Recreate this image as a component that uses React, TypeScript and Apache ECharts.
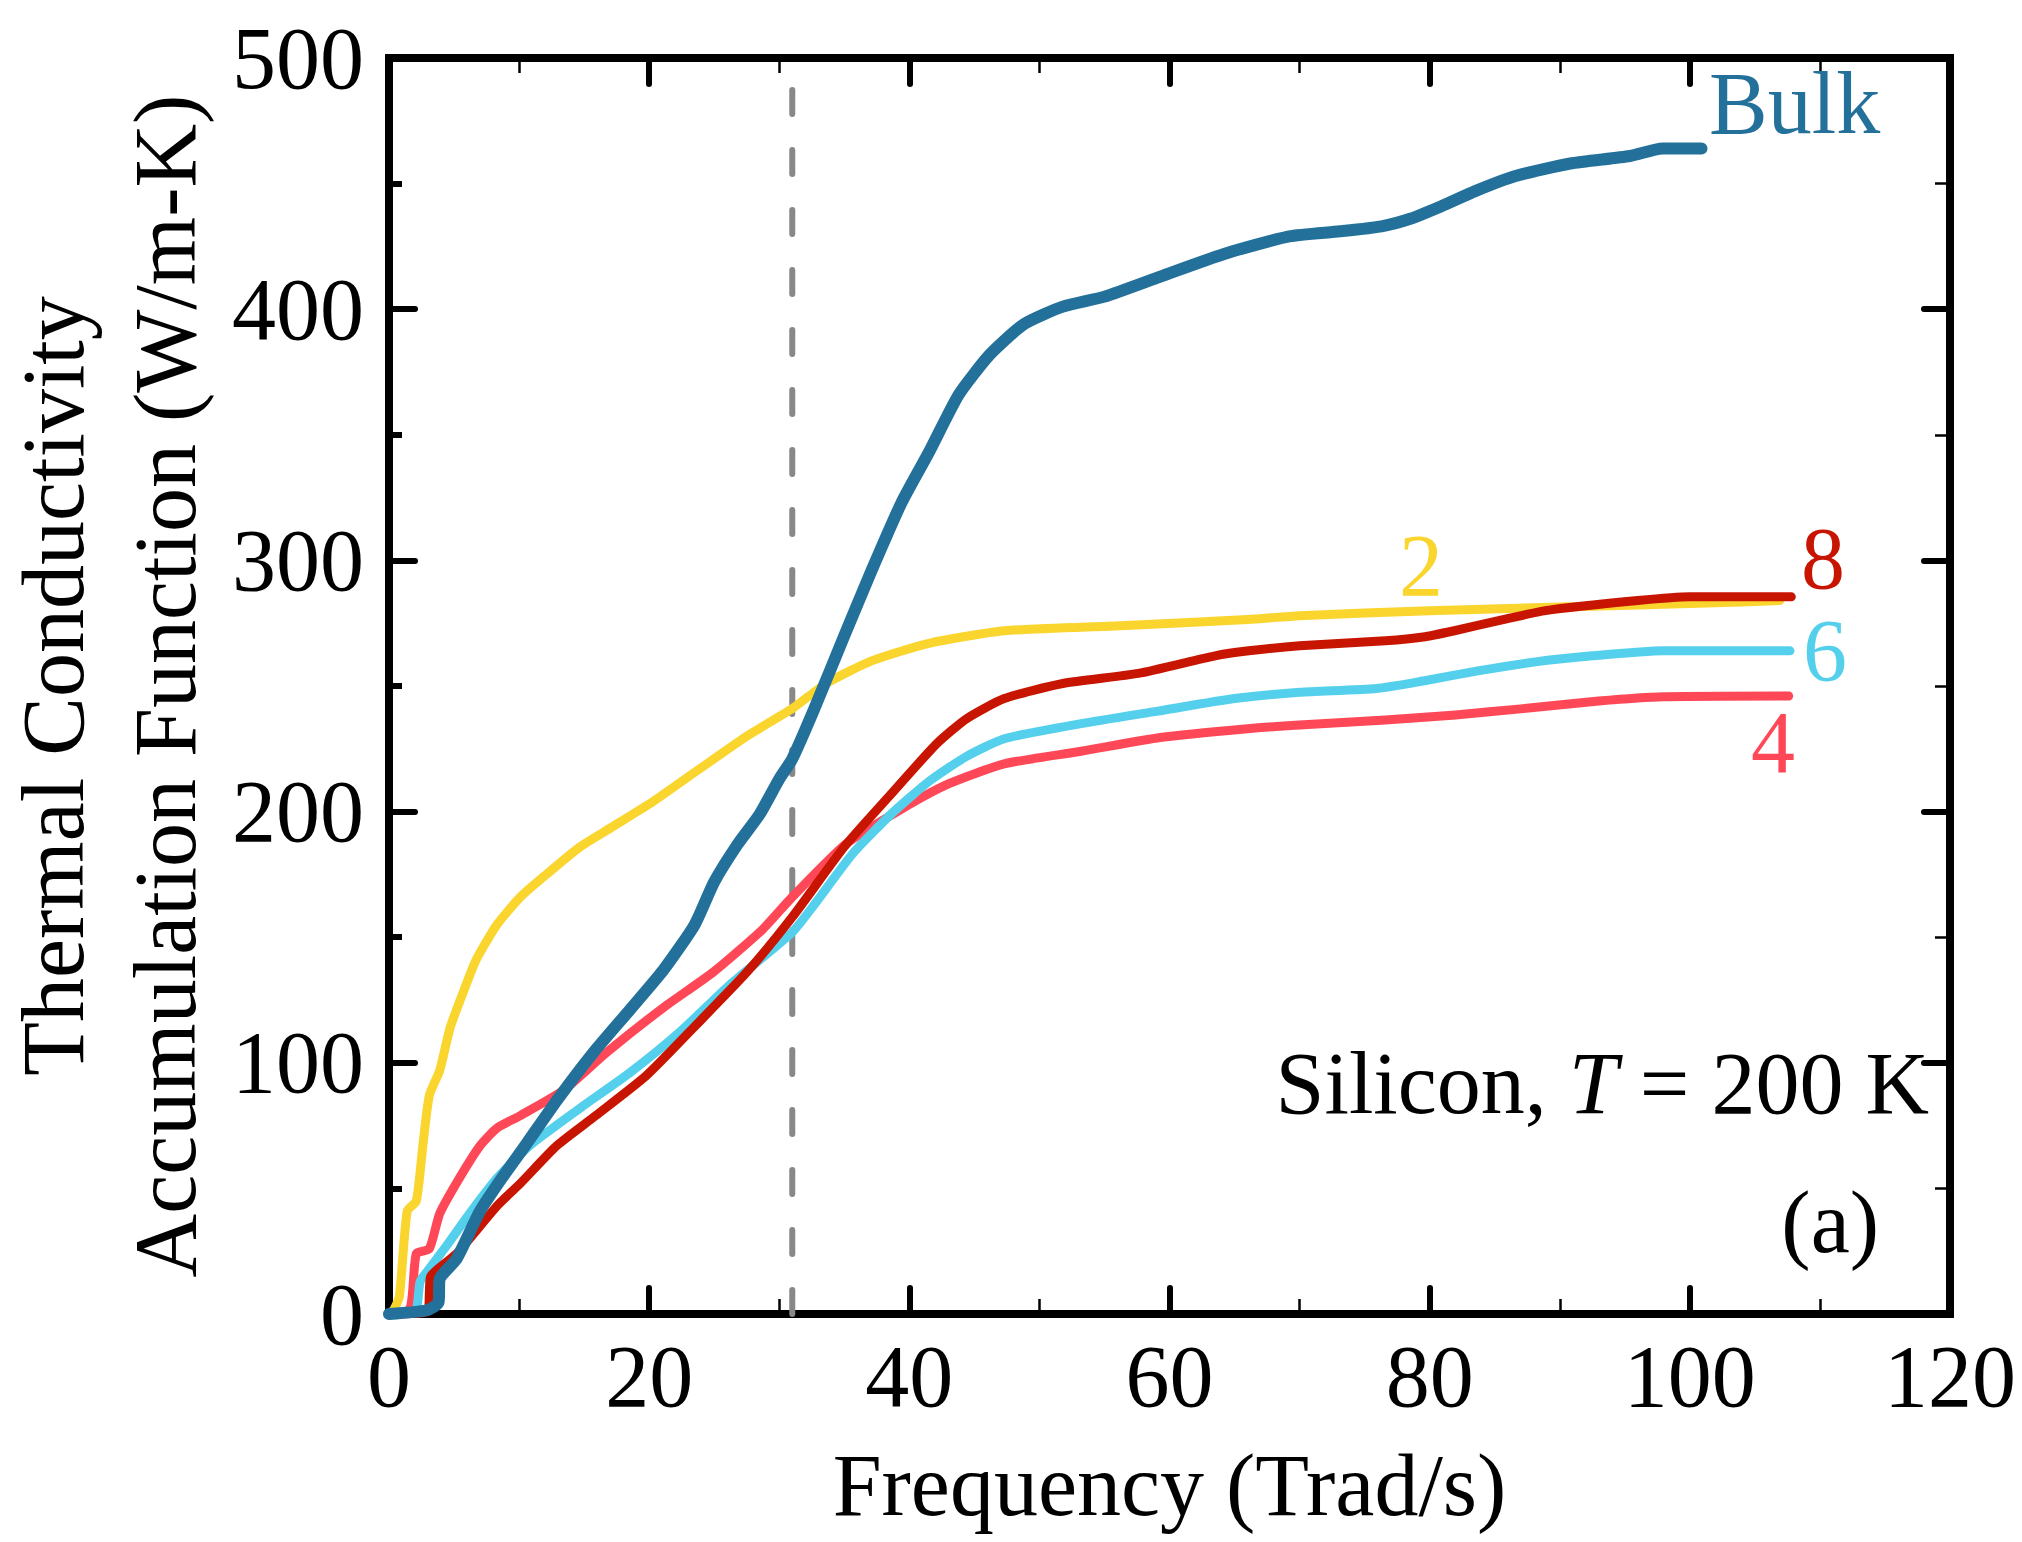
import React, { useEffect, useRef } from "react";
import * as echarts from "echarts";

const FONT = '"Liberation Serif", "Times New Roman", Times, serif';

// ---- data (frequency in Trad/s, accumulated conductivity in W/m-K) ----
const bulkX = [0, 2.9, 3.8, 3.9, 5.2, 7, 8.8, 10.6, 12.9, 15.7, 18.5, 21.1, 23.5, 25, 26.8, 28.5, 30, 31, 32.7, 35, 37.1, 39.4, 41.5, 43.8, 46.2, 48.8, 51.8, 55, 59.3, 64.2, 69.2, 73.1, 76.3, 78.5, 80.9, 83.5, 86.6, 90.8, 95.4, 97.9, 100.9];
const bulkY = [0, 1.5, 4.5, 14, 22, 41, 55, 68, 85, 104, 121, 137, 155, 172, 187, 199, 213, 221, 241, 270, 296, 323, 343, 366, 382, 394, 401, 405, 413, 422, 429, 431, 433, 436, 441, 447, 453, 458, 461, 464, 464];

const n2X = [0, 0.4, 0.8, 1.4, 2.1, 2.6, 3.1, 3.9, 4.7, 5.7, 6.7, 8.3, 10.1, 12.1, 14.7, 17.2, 20.3, 23.6, 27.5, 31, 33.6, 37.1, 41.5, 47.3, 56.2, 66, 70, 80, 90.8, 101.3, 106.9];
const n2Y = [0, 2, 7, 41, 45, 67, 87, 97, 114, 128, 141, 155, 166, 175, 186, 194, 204, 216, 230, 241, 251, 260, 267, 272, 274, 276.5, 278, 280, 281.5, 283, 284];

const n4X = [0, 1.6, 2.1, 3.1, 3.9, 5.4, 7, 8.3, 10.1, 13.4, 16.7, 21.1, 24.9, 28.7, 31, 35.1, 39.4, 43, 47.3, 53.2, 59.3, 66, 70, 76.6, 82, 87.2, 93, 98, 107.6];
const n4Y = [0, 2, 24, 26, 40, 54, 67, 74, 79, 89, 104, 122, 136, 153, 166, 187, 201, 211, 219, 224, 229.5, 233, 234.5, 236.5, 238.5, 241, 244, 245.7, 246];

const n6X = [0, 2, 2.4, 3.1, 4.4, 6.2, 8.3, 10.8, 14.7, 18.5, 22.3, 26.2, 31, 32.7, 35.6, 38.6, 41.5, 44.4, 47.3, 53.2, 59.1, 65, 70, 75.9, 79.5, 83.7, 88, 92.5, 98, 107.7];
const n6Y = [0, 1, 13, 18, 27, 40, 54, 67, 82, 96, 112, 131, 152, 163, 183, 199, 212, 222, 229, 235, 240, 245, 247.5, 249, 252, 256, 259.5, 262, 264, 264];

const n8X = [0, 3, 3.1, 3.2, 5.2, 8.3, 10.1, 12.9, 15.9, 19.8, 23.6, 27.5, 31, 35, 38.6, 42.1, 44.4, 47.3, 51.8, 57.6, 63.5, 66.1, 70, 76.6, 79.5, 81.9, 85.3, 88.9, 96, 100, 107.8];
const n8Y = [0, 1, 8, 15, 24, 43, 52, 67, 79, 95, 115, 136, 158, 186, 207, 227, 237, 245, 251, 255, 262, 264, 266, 268, 269.5, 272, 276, 280, 284, 285.5, 285.5];

const dividerX = [31, 31];
const dividerY = [0, 490];

const xTicks = { min: 0, max: 120, interval: 20 };
const yTicks = { min: 0, max: 500, interval: 100 };

const COLORS = {
  bulk: "#23719a",
  n2: "#fad52e",
  n4: "#ff4857",
  n6: "#55d0ec",
  n8: "#c81502",
  guide: "#888888",
};

const zip = (xs: number[], ys: number[]) => xs.map((x, i) => [x, ys[i]]);

function lineSeries(name: string, xs: number[], ys: number[], color: string, width: number, z: number) {
  return {
    name,
    type: "line",
    data: zip(xs, ys),
    showSymbol: false,
    symbol: "none",
    smooth: 0.2,
    z,
    lineStyle: { color, width, cap: "round", join: "round" },
    emphasis: { disabled: true },
  };
}

export default function App() {
  const ref = useRef<HTMLDivElement>(null);

  useEffect(() => {
    if (!ref.current) return;
    const chart = echarts.init(ref.current, null, { renderer: "svg" });

    const tickLabel = { fontFamily: FONT, fontSize: 88, color: "#000" };
    const axisLine = { show: true, onZero: false, lineStyle: { color: "#000", width: 8, cap: "square" } };

    const xBase = {
      type: "value",
      min: xTicks.min,
      max: xTicks.max,
      interval: xTicks.interval,
      axisLine,
      axisTick: { show: true, inside: true, length: 26, lineStyle: { color: "#000", width: 6, cap: "round" } },
      minorTick: { show: true, splitNumber: 2, length: 15, lineStyle: { color: "#000", width: 2.5 } },
      splitLine: { show: false },
      minorSplitLine: { show: false },
    };
    const yBase = {
      type: "value",
      min: yTicks.min,
      max: yTicks.max,
      interval: yTicks.interval,
      axisLine,
      axisTick: { show: true, inside: true, length: 26, lineStyle: { color: "#000", width: 6, cap: "round" } },
      minorTick: { show: true, splitNumber: 2, length: 15, lineStyle: { color: "#000", width: 2.5 } },
      splitLine: { show: false },
      minorSplitLine: { show: false },
    };

    const textStyle = (text: string, x: number, y: number, color: string, align: string) => ({
      type: "text",
      z: 100,
      style: {
        text,
        x,
        y,
        fill: color,
        fontSize: 88,
        fontFamily: FONT,
        align,
        verticalAlign: "middle",
        textAlign: align,
        textVerticalAlign: "middle",
      },
    });

    const option: any = {
      animation: false,
      backgroundColor: "#ffffff",
      grid: { left: 389, right: 72, top: 58, bottom: 228, containLabel: false, outerBoundsMode: "none" },
      xAxis: [
        {
          ...xBase,
          position: "bottom",
          axisLabel: { ...tickLabel, margin: 18 },
          name: "Frequency (Trad/s)",
          nameLocation: "middle",
          nameGap: 127,
          nameTextStyle: { fontFamily: FONT, fontSize: 88, color: "#000" },
        },
        {
          ...xBase,
          position: "top",
          axisLabel: { show: false },
        },
      ],
      yAxis: [
        {
          ...yBase,
          position: "left",
          minorTick: { show: true, splitNumber: 2, length: 13, lineStyle: { color: "#000", width: 6 } },
          axisLabel: { ...tickLabel, margin: 25 },
          name: "Thermal Conductivity\nAccumulation Function (W/m-K)",
          nameLocation: "middle",
          nameRotate: 90,
          nameGap: 155,
          nameTextStyle: { fontFamily: FONT, fontSize: 88, color: "#000", lineHeight: 112, align: "center" },
        },
        {
          ...yBase,
          position: "right",
          axisLabel: { show: false },
        },
      ],
      series: [
        {
          name: "guide",
          type: "line",
          data: zip(dividerX, dividerY),
          showSymbol: false,
          symbol: "none",
          z: 1,
          lineStyle: { color: COLORS.guide, width: 6, type: [24, 36], cap: "round" },
          emphasis: { disabled: true },
        },
        lineSeries("2", n2X, n2Y, COLORS.n2, 9, 2),
        lineSeries("4", n4X, n4Y, COLORS.n4, 9, 3),
        lineSeries("6", n6X, n6Y, COLORS.n6, 9, 4),
        lineSeries("8", n8X, n8Y, COLORS.n8, 9, 5),
        lineSeries("Bulk", bulkX, bulkY, COLORS.bulk, 12, 6),
      ],
      graphic: [
        textStyle("Bulk", 1709, 103, COLORS.bulk, "left"),
        textStyle("2", 1421, 565, COLORS.n2, "center"),
        textStyle("8", 1823, 558, COLORS.n8, "center"),
        textStyle("6", 1825, 650, COLORS.n6, "center"),
        textStyle("4", 1773, 742, COLORS.n4, "center"),
        {
          type: "text",
          z: 100,
          style: {
            text: "{n|Silicon, }{i|T}{n| = 200 K}",
            x: 1929,
            y: 1083,
            align: "right",
            verticalAlign: "middle",
            textAlign: "right",
            textVerticalAlign: "middle",
            fill: "#000",
            fontSize: 88,
            fontFamily: FONT,
            rich: {
              n: { fontSize: 88, fontFamily: FONT, fill: "#000", color: "#000" },
              i: { fontSize: 88, fontFamily: FONT, fontStyle: "italic", fill: "#000", color: "#000" },
            },
          },
        },
        textStyle("(a)", 1879, 1222, "#000", "right"),
      ],
    };

    chart.setOption(option);
    return () => chart.dispose();
  }, []);

  return (
    <div
      ref={ref}
      style={{ position: "absolute", left: 0, top: 0, width: 2022, height: 1542, background: "#fff" }}
    />
  );
}
